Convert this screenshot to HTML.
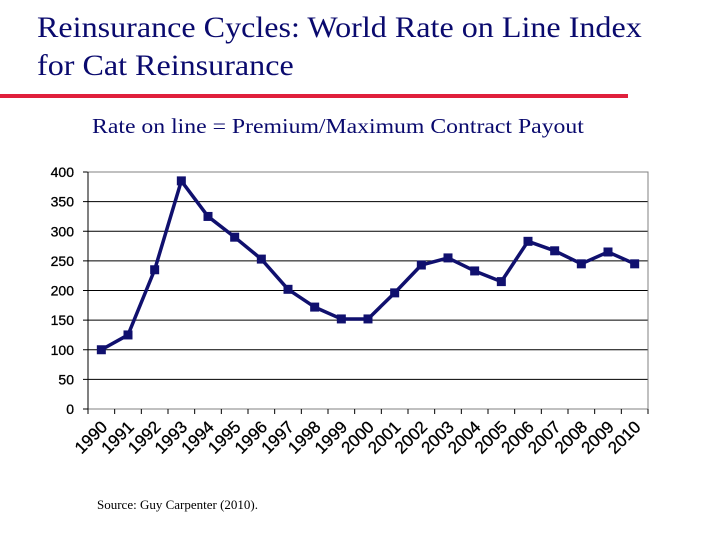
<!DOCTYPE html>
<html><head><meta charset="utf-8"><style>
body{margin:0;width:720px;height:540px;background:#fff;overflow:hidden;position:relative;font-family:"Liberation Serif",serif}
.t{position:absolute;color:#0a0a6e;transform-origin:0 0}
</style></head><body>
<div class="t" style="left:37px;top:9px;font-size:30px;line-height:38px;white-space:nowrap;transform:scaleX(1.07)">Reinsurance Cycles: World Rate on Line Index<br>for Cat Reinsurance</div>
<div style="position:absolute;left:0;top:94px;width:628px;height:4px;background:#e0203c"></div>
<div class="t" style="left:92px;top:114px;font-size:21px;white-space:nowrap;transform:scaleX(1.13)">Rate on line = Premium/Maximum Contract Payout</div>
<div class="t" style="left:97px;top:497px;font-size:13px;color:#000">Source: Guy Carpenter (2010).</div>
<svg id="c" width="720" height="540" style="position:absolute;left:0;top:0"></svg>
<script>
const years=["1990","1991","1992","1993","1994","1995","1996","1997","1998","1999","2000","2001","2002","2003","2004","2005","2006","2007","2008","2009","2010"];
const values=[100,125,235,385,325,290,253,202,172,152,152,196,243,255,233,215,283,267,245,265,245];
const yTicks=[0,50,100,150,200,250,300,350,400];
const L=88,R=648,T=172,B=409,ymax=400;
const x=i=>L+(R-L)/years.length*(i+0.5);
const y=v=>B-(B-T)*v/ymax;
const s=document.getElementById('c'),NS="http://www.w3.org/2000/svg";
function mk(t,a,p){const e=document.createElementNS(NS,t);for(const k in a)e.setAttribute(k,a[k]);(p||s).appendChild(e);return e;}
yTicks.forEach(v=>{
 const g=mk('line',{x1:L,x2:R,y1:y(v),y2:y(v),stroke:'#000','stroke-width':1});
 
 
 mk('line',{x1:L-5,x2:L,y1:y(v),y2:y(v),stroke:'#000'});
 const t=mk('text',{x:L-14,y:y(v)+5,'text-anchor':'end','font-family':'Liberation Sans, sans-serif','font-size':14,'stroke':'#000','stroke-width':0.3});
 t.textContent=v;
 
 
});
mk('rect',{x:L,y:T,width:R-L,height:B-T,fill:'none',stroke:'#808080'});
mk('line',{x1:L,x2:L,y1:T,y2:B,stroke:'#000'});
const step=(R-L)/years.length;
years.forEach((yr,i)=>{
 mk('line',{x1:L+step*i,x2:L+step*i,y1:B,y2:B+5,stroke:'#000'});
 const cx=x(i)+7,cy=B+19;
 const t=mk('text',{x:cx,y:cy,'text-anchor':'end','font-family':'Liberation Sans, sans-serif','font-size':17,'stroke':'#000','stroke-width':0.3,transform:`rotate(-45 ${cx} ${cy})`});
 t.textContent=yr;
 
 
});
mk('line',{x1:L+step*21,x2:L+step*21,y1:B,y2:B+5,stroke:'#000'});
const p=mk('polyline',{points:values.map((v,i)=>x(i)+','+y(v)).join(' '),fill:'none',stroke:'#10106e','stroke-width':3.5,'stroke-linejoin':'round'});


values.forEach((v,i)=>{
 const m=mk('rect',{x:x(i)-4.5,y:y(v)-4.5,width:9,height:9,fill:'#10106e'});
 
 
});
</script>
</body></html>
